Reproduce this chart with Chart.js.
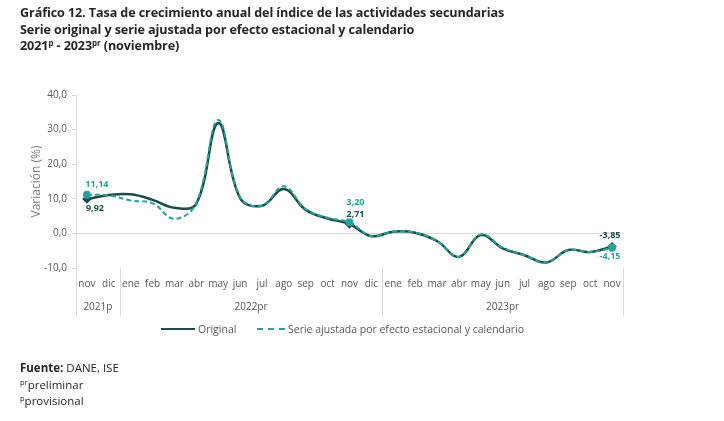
<!DOCTYPE html>
<html>
<head>
<meta charset="utf-8">
<script src="https://cdn.jsdelivr.net/npm/chart.js@4"></script>
<style>
  body { margin: 0; background: #fff; }
  #wrap { position: relative; width: 724px; height: 421px; overflow: hidden; font-family: "Open Sans", sans-serif; }
  #c { position: absolute; left: 0; top: 0; }
  .title { position: absolute; left: 20px; top: 5px; font-weight: bold; font-size: 12.6px; line-height: 16.5px; color: #262626; letter-spacing: -0.1px; }
  .title sup { font-size: 8px; vertical-align: 4px; line-height: 0; }
  .legend { position: absolute; top: 322px; left: 0; width: 724px; font-size: 10.5px; color: #595959; }
  .legend span.item { position: absolute; top: 0; white-space: nowrap; }
  .sw { display: inline-block; width: 34px; height: 0; vertical-align: 3px; margin-right: 3px; }
  .foot { position: absolute; left: 20px; top: 360px; font-size: 11.5px; line-height: 16.5px; color: #262626; }
  .foot sup { font-size: 7.5px; vertical-align: 4px; line-height: 0; }
</style>
</head>
<body>
<div id="wrap">
  <canvas id="c" width="724" height="421"></canvas>
  <div class="title">Gráfico 12. Tasa de crecimiento anual del índice de las actividades secundarias<br>
  Serie original y serie ajustada por efecto estacional y calendario<br>
  2021<sup>p</sup> - 2023<sup>pr</sup> (noviembre)</div>
  <div class="legend">
    <span class="item" style="left:161px"><span class="sw" style="border-top:2.5px solid #1b4b4e"></span>Original</span>
    <span class="item" style="left:257px"><span class="sw" style="width:28px;border-top:2px dashed #27a39a"></span>Serie ajustada por efecto estacional y calendario</span>
  </div>
  <div class="foot"><b>Fuente:</b> DANE, ISE<br><sup>pr</sup>preliminar<br><sup>p</sup>provisional</div>
</div>
<script>
const meses = ['nov', 'dic',
  'ene', 'feb', 'mar', 'abr', 'may', 'jun', 'jul', 'ago', 'sep', 'oct', 'nov', 'dic',
  'ene', 'feb', 'mar', 'abr', 'may', 'jun', 'jul', 'ago', 'sep', 'oct', 'nov'];
const anios = [
  { label: '2021p', from: 0, to: 1 },
  { label: '2022pr', from: 2, to: 13 },
  { label: '2023pr', from: 14, to: 24 }
];
const original = [9.92, 11.1, 11.3, 9.7, 7.4, 8.6, 31.9, 10.2, 8.0, 12.8, 6.8, 4.3, 2.71,
  -0.8, 0.5, 0.2, -2.2, -6.8, -0.5, -4.3, -6.3, -8.4, -4.8, -5.4, -3.85];
const ajustada = [11.14, 11.0, 9.5, 8.7, 4.2, 8.8, 32.8, 10.4, 8.0, 13.6, 7.0, 4.5, 3.20,
  -0.8, 0.5, 0.2, -2.3, -6.8, -0.3, -4.1, -6.3, -8.4, -4.8, -5.4, -4.15];
const yTicks = [-10, 0, 10, 20, 30, 40];

const OSCURO = '#1b4b4e';
const TEAL = '#27a39a';
const marcados = [0, 12, 24];
const fmt = v => v.toFixed(2).replace('.', ',');

// etiquetas del eje x en dos niveles + etiquetas de datos
const extras = {
  id: 'extras',
  afterDraw(chart) {
    const ctx = chart.ctx;
    const x = chart.scales.x, a = chart.chartArea;
    const w = (x.right - x.left) / meses.length;
    ctx.save();
    ctx.font = '10px "Open Sans"';
    ctx.fillStyle = '#595959';
    ctx.textAlign = 'center';
    ctx.textBaseline = 'middle';
    meses.forEach((m, i) => ctx.fillText(m, x.getPixelForValue(i), a.bottom + 16));
    ctx.strokeStyle = '#d9d9d9';
    ctx.lineWidth = 1;
    anios.forEach(g => {
      const x0 = x.getPixelForValue(g.from) - w / 2;
      const x1 = x.getPixelForValue(g.to) + w / 2;
      ctx.fillText(g.label, (x0 + x1) / 2, a.bottom + 39);
      [x0, x1].forEach(px => {
        ctx.beginPath();
        ctx.moveTo(Math.round(px) + 0.5, a.bottom);
        ctx.lineTo(Math.round(px) + 0.5, a.bottom + 48);
        ctx.stroke();
      });
    });
    // etiquetas de datos
    const y = chart.scales.y;
    ctx.font = 'bold 9px "Open Sans"';
    const lab = (i, v, color, dx, dy) => {
      ctx.fillStyle = color;
      ctx.fillText(fmt(v), x.getPixelForValue(i) + dx, y.getPixelForValue(v) + dy);
    };
    lab(0, ajustada[0], TEAL, 10, -10);
    lab(0, original[0], OSCURO, 8, 9);
    lab(12, ajustada[12], TEAL, 6, -20);
    lab(12, original[12], OSCURO, 6, -10);
    lab(24, original[24], OSCURO, -2, -11);
    lab(24, ajustada[24], TEAL, -2, 9);
    ctx.restore();
  }
};

new Chart(document.getElementById('c'), {
  type: 'line',
  data: {
    labels: meses,
    datasets: [{
      label: 'Original',
      data: original,
      borderColor: OSCURO,
      backgroundColor: OSCURO,
      borderWidth: 2.5,
      tension: 0.4,
      pointRadius: ctx => marcados.includes(ctx.dataIndex) ? 3 : 0,
      pointStyle: 'rectRot',
      order: 1
    }, {
      label: 'Serie ajustada por efecto estacional y calendario',
      data: ajustada,
      borderColor: TEAL,
      backgroundColor: TEAL,
      borderWidth: 2,
      borderDash: [5, 3],
      tension: 0.4,
      pointRadius: ctx => marcados.includes(ctx.dataIndex) ? 3 : 0,
      order: 0
    }]
  },
  options: {
    responsive: false,
    animation: false,
    devicePixelRatio: 1,
    layout: { padding: { top: 95, right: 101, left: 29, bottom: 0 } },
    plugins: { legend: { display: false }, tooltip: { enabled: false } },
    scales: {
      x: {
        offset: true,
        ticks: { display: false },
        grid: { display: false },
        border: { display: false },
        afterFit: s => { s.height = 153; }
      },
      y: {
        min: -10,
        max: 40,
        afterBuildTicks: s => { s.ticks = yTicks.map(v => ({ value: v })); },
        afterFit: s => { s.width = 47; },
        ticks: {
          color: '#595959',
          font: { family: 'Open Sans', size: 10 },
          padding: 5,
          callback: v => v.toFixed(1).replace('.', ',')
        },
        grid: {
          color: c => c.tick && c.tick.value === 0 ? '#d9d9d9' : 'rgba(0,0,0,0)',
          tickColor: '#d9d9d9',
          tickLength: 4
        },
        border: { color: '#d9d9d9' },
        title: {
          display: true,
          text: 'Variación (%)',
          color: '#7f7f7f',
          font: { family: 'Open Sans', size: 12 },
          padding: 0
        }
      }
    }
  },
  plugins: [extras]
});
</script>
</body>
</html>
